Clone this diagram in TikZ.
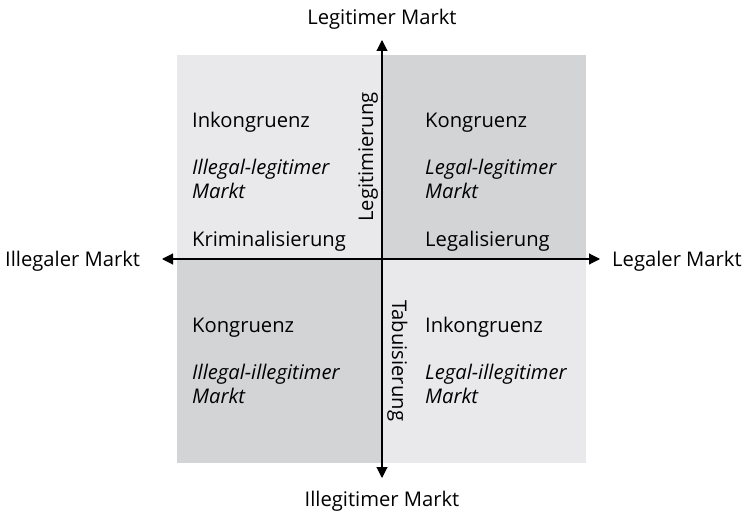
\documentclass[tikz,border=0pt]{standalone}
\usepackage{fontspec}
\setmainfont{Open Sans}
\usetikzlibrary{arrows.meta}
\definecolor{qlight}{HTML}{E9E9EB}
\definecolor{qdark}{HTML}{D3D4D6}
\begin{document}
\begin{tikzpicture}[x=1pt,y=-1pt,
  lbl/.style={font=\fontsize{20.2}{24}\selectfont, inner sep=0pt, anchor=base west},
  ilbl/.style={lbl, font=\fontsize{20.2}{24}\selectfont\itshape},
  axis/.style={line width=1.1pt, -{Triangle[length=11pt,width=11pt]}}]
\useasboundingbox (0,0) rectangle (748,516);
\fill[qlight] (177,55) rectangle (382,259);
\fill[qdark] (382,55) rectangle (586,259);
\fill[qdark] (177,259) rectangle (382,463);
\fill[qlight] (382,259) rectangle (586,463);
\coordinate (c) at (382,259);
\coordinate (top) at (382,40);
\coordinate (bot) at (382,478);
\coordinate (lft) at (162,259);
\coordinate (rgt) at (600,259);
\draw[axis] (c) -- (top);
\draw[axis] (c) -- (bot);
\draw[axis] (c) -- (lft);
\draw[axis] (c) -- (rgt);
\node[lbl, anchor=base] (nt) at (382,25) {Legitimer Markt};
\node[lbl, anchor=base] (nb) at (382,506) {Illegitimer Markt};
\node[lbl, anchor=base west] (nl) at (5,266) {Illegaler Markt};
\node[lbl, anchor=base west] (nr) at (612,266) {Legaler Markt};
% top-left
\node[lbl] (tl1) at (192,128) {Inkongruenz};
\node[ilbl] (tl2) at (192,175) {Illegal-legitimer};
\node[ilbl] (tl3) at (192,199) {Markt};
\node[lbl] (tl4) at (192,247) {Kriminalisierung};
% top-right
\node[lbl] (tr1) at (425,128) {Kongruenz};
\node[ilbl] (tr2) at (425,175) {Legal-legitimer};
\node[ilbl] (tr3) at (425,199) {Markt};
\node[lbl] (tr4) at (425,247) {Legalisierung};
% bottom-left
\node[lbl] (bl1) at (192,332) {Kongruenz};
\node[ilbl] (bl2) at (192,379) {Illegal-illegitimer};
\node[ilbl] (bl3) at (192,403) {Markt};
% bottom-right
\node[lbl] (br1) at (425,332) {Inkongruenz};
\node[ilbl] (br2) at (425,379) {Legal-illegitimer};
\node[ilbl] (br3) at (425,403) {Markt};
% axis labels
\node[lbl, rotate=90] (leg) at (373,222) {Legitimierung};
\node[lbl, rotate=-90] (tab) at (392,300) {Tabuisierung};
\end{tikzpicture}
\end{document}
